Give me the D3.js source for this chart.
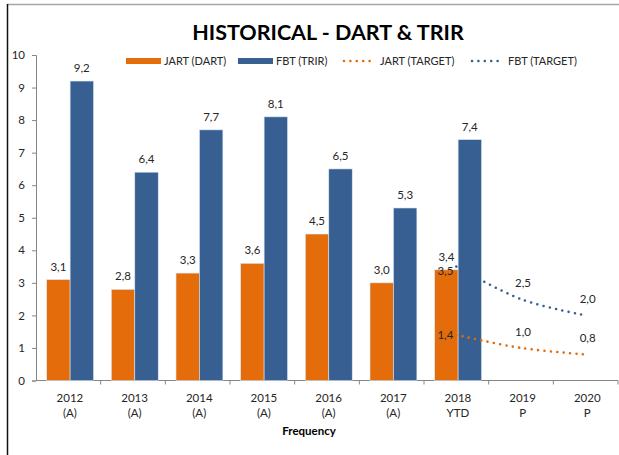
<!DOCTYPE html>
<html>
<head>
<meta charset="utf-8">
<script src="https://cdn.jsdelivr.net/npm/d3@7"></script>
<style>
  body { margin: 0; background: #fff; }
  text { font-family: Lato, "Open Sans", sans-serif; fill: #262626; }
  .axis path, .axis line { stroke: #868686; }
</style>
</head>
<body>
<svg id="chart" width="619" height="455"></svg>
<script>
// data
var years = ["2012", "2013", "2014", "2015", "2016", "2017", "2018", "2019", "2020"];
var periods = ["(A)", "(A)", "(A)", "(A)", "(A)", "(A)", "YTD", "P", "P"];
var jartDart = [3.1, 2.8, 3.3, 3.6, 4.5, 3.0, 3.4, null, null];
var fbtTrir = [9.2, 6.4, 7.7, 8.1, 6.5, 5.3, 7.4, null, null];
var jartTarget = [null, null, null, null, null, null, 1.4, 1.0, 0.8];
var fbtTarget = [null, null, null, null, null, null, 3.5, 2.5, 2.0];
var yTicks = [0, 1, 2, 3, 4, 5, 6, 7, 8, 9, 10];
var seriesNames = ["JART (DART)", "FBT (TRIR)", "JART (TARGET)", "FBT (TARGET)"];

var orange = "#e46c0a", blue = "#375f91";
var fmt = function(v) { return d3.format(".1f")(v).replace(".", ","); };

var svg = d3.select("#chart");

// outer frame (partly visible in the screenshot)
svg.append("line").attr("x1", 7).attr("x2", 619).attr("y1", 4.5).attr("y2", 4.5)
    .attr("stroke", "#a6a6a6").attr("stroke-width", 1.5);
svg.append("line").attr("x1", 7.5).attr("x2", 7.5).attr("y1", 4).attr("y2", 455)
    .attr("stroke", "#111").attr("stroke-width", 1.5);

var x = d3.scaleBand().domain(years).range([36, 618]);
var y = d3.scaleLinear().domain([0, 10]).range([380.5, 55]);
var xSub = d3.scaleBand().domain(["jart", "fbt"])
    .range([x.bandwidth() * 0.165, x.bandwidth() * 0.89]);
var shift = 1.6;

// title
svg.append("text")
    .attr("x", 328).attr("y", 40)
    .attr("text-anchor", "middle")
    .attr("font-size", "21.5px").attr("font-weight", "bold")
    .style("fill", "#000")
    .text("HISTORICAL - DART & TRIR");

// y axis
svg.append("g")
    .attr("class", "axis")
    .attr("transform", "translate(36,0)")
    .call(d3.axisLeft(y).tickValues(yTicks).tickSize(4).tickPadding(7))
    .call(function(g) { g.selectAll("text").attr("font-size", "11.5px"); });

// x axis: line + ticks at band boundaries
var xAxis = svg.append("g").attr("class", "axis");
xAxis.append("line").attr("x1", 36).attr("x2", 618).attr("y1", y(0)).attr("y2", y(0));
xAxis.selectAll(".btick").data(years).enter().append("line")
    .attr("class", "btick")
    .attr("x1", function(d) { return x(d) + x.bandwidth(); })
    .attr("x2", function(d) { return x(d) + x.bandwidth(); })
    .attr("y1", y(0)).attr("y2", y(0) + 4);

var xl = svg.append("g").selectAll("text").data(years).enter().append("text")
    .attr("text-anchor", "middle")
    .attr("font-size", "11.5px")
    .attr("transform", function(d) { return "translate(" + (x(d) + x.bandwidth() / 2 + shift) + ",0)"; });
xl.append("tspan").attr("x", 0).attr("y", 402).text(function(d) { return d; });
xl.append("tspan").attr("x", 0).attr("y", 417).text(function(d, i) { return periods[i]; });

svg.append("text")
    .attr("x", 309).attr("y", 435)
    .attr("text-anchor", "middle")
    .attr("font-size", "11.5px").attr("font-weight", "bold")
    .style("fill", "#000")
    .text("Frequency");

// bars
var bars = [
  { key: "jart", values: jartDart, color: orange },
  { key: "fbt", values: fbtTrir, color: blue }
];
bars.forEach(function(s) {
  var pts = years.map(function(yr, i) { return { year: yr, v: s.values[i] }; })
      .filter(function(d) { return d.v != null; });
  svg.append("g").selectAll("rect").data(pts).enter().append("rect")
      .attr("x", function(d) { return x(d.year) + xSub(s.key); })
      .attr("y", function(d) { return y(d.v); })
      .attr("width", xSub.bandwidth())
      .attr("height", function(d) { return y(0) - y(d.v); })
      .attr("fill", s.color)
      .attr("stroke", "#dce6f2").attr("stroke-width", 0.6);
  svg.append("g").selectAll("text").data(pts).enter().append("text")
      .attr("x", function(d) { return x(d.year) + xSub(s.key) + xSub.bandwidth() / 2; })
      .attr("y", function(d) { return y(d.v) - 9; })
      .attr("text-anchor", "middle")
      .attr("font-size", "11.5px")
      .text(function(d) { return fmt(d.v); });
});

// target lines (smoothed, round dots)
var lines = [
  { values: jartTarget, color: orange, firstDy: 4 },
  { values: fbtTarget, color: blue, firstDy: 8 }
];
var lineGen = d3.line()
    .x(function(d) { return x(d.year) + x.bandwidth() / 2; })
    .y(function(d) { return y(d.v); })
    .curve(d3.curveCatmullRom.alpha(0.5));
lines.forEach(function(s) {
  var pts = years.map(function(yr, i) { return { year: yr, v: s.values[i] }; })
      .filter(function(d) { return d.v != null; });
  svg.append("path").datum(pts)
      .attr("d", lineGen)
      .attr("fill", "none")
      .attr("stroke", s.color)
      .attr("stroke-width", 2.6)
      .attr("stroke-linecap", "round")
      .attr("stroke-dasharray", "0 6.4");
  svg.append("g").selectAll("text").data(pts).enter().append("text")
      .attr("x", function(d, i) { return x(d.year) + x.bandwidth() / 2 + (i === 0 ? -3 : 2); })
      .attr("y", function(d, i) { return i === 0 ? y(d.v) + s.firstDy : y(d.v) - 12; })
      .attr("text-anchor", function(d, i) { return i === 0 ? "end" : "middle"; })
      .attr("font-size", "11.5px")
      .text(function(d) { return fmt(d.v); });
});

// legend
var legendItems = [
  { name: seriesNames[0], color: orange, type: "bar", x: 126 },
  { name: seriesNames[1], color: blue, type: "bar", x: 238 },
  { name: seriesNames[2], color: orange, type: "line", x: 342 },
  { name: seriesNames[3], color: blue, type: "line", x: 470 }
];
var lg = svg.append("g").selectAll("g").data(legendItems).enter().append("g")
    .attr("transform", function(d) { return "translate(" + d.x + ",61)"; });
lg.filter(function(d) { return d.type === "bar"; }).append("rect")
    .attr("x", 0).attr("y", -3).attr("width", 35).attr("height", 6)
    .attr("fill", function(d) { return d.color; });
lg.filter(function(d) { return d.type === "line"; }).append("line")
    .attr("x1", 2).attr("x2", 34).attr("y1", 0).attr("y2", 0)
    .attr("stroke", function(d) { return d.color; })
    .attr("stroke-width", 2.6)
    .attr("stroke-linecap", "round")
    .attr("stroke-dasharray", "0 6.4");
lg.append("text")
    .attr("x", 38).attr("y", 4)
    .attr("font-size", "11px")
    .text(function(d) { return d.name; });
</script>
</body>
</html>
